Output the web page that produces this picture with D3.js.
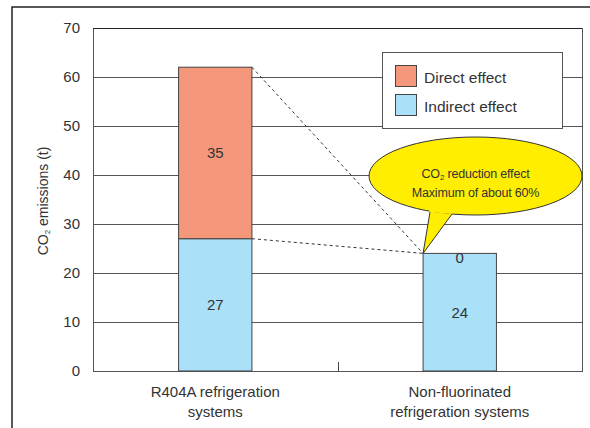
<!DOCTYPE html>
<html>
<head>
<meta charset="utf-8">
<script src="https://cdn.jsdelivr.net/npm/d3@7"></script>
<style>
  html, body { margin: 0; padding: 0; background: #fff; }
  svg { display: block; font-family: "Liberation Sans", Arial, sans-serif; }
</style>
</head>
<body>
<svg id="chart" width="590" height="428"></svg>
<script>
// Emissions data (tonnes of CO2)
const categories = [
  ["R404A refrigeration", "systems"],
  ["Non-fluorinated", "refrigeration systems"]
];
const indirectValues = [27, 24];
const directValues = [35, 0];
const seriesNames = ["Direct effect", "Indirect effect"];
const yTicks = [0, 10, 20, 30, 40, 50, 60, 70];
const calloutLines = ["CO|2| reduction effect", "Maximum of about 60%"];

const colors = { direct: "#F4977A", indirect: "#AAE0F8" };
const textColor = "#333";

const svg = d3.select("#chart");
const margin = { left: 93, top: 28, right: 8, bottom: 57 };
const W = 590, H = 428;
const plotW = W - margin.left - margin.right;
const plotH = H - margin.top - margin.bottom;

// Outer frame
svg.append("rect")
  .attr("x", 12).attr("y", 7)
  .attr("width", 600).attr("height", 440)
  .attr("fill", "none").attr("stroke", "#222").attr("stroke-width", 1.5);

const g = svg.append("g").attr("transform", `translate(${margin.left},${margin.top})`);

const x = d3.scaleBand()
  .domain(d3.range(categories.length))
  .range([0, plotW])
  .paddingInner(0.7)
  .paddingOuter(0.35);

const y = d3.scaleLinear().domain([0, 70]).range([plotH, 0]);

// Horizontal gridlines
g.append("g").selectAll("line")
  .data(yTicks.filter(t => t > 0 && t < 70))
  .join("line")
  .attr("x1", 0).attr("x2", plotW)
  .attr("y1", d => Math.round(y(d)) + 0.5).attr("y2", d => Math.round(y(d)) + 0.5)
  .attr("stroke", "#555").attr("stroke-width", 1);

// Plot border
g.append("rect")
  .attr("x", 0.5).attr("y", 0.5)
  .attr("width", plotW).attr("height", plotH)
  .attr("fill", "none").attr("stroke", "#555").attr("stroke-width", 1);
g.append("line")
  .attr("x1", 0).attr("x2", plotW).attr("y1", 0.5).attr("y2", 0.5)
  .attr("stroke", "#222");

// Y axis labels
const yAxis = d3.axisLeft(y).tickValues(yTicks).tickSize(0).tickPadding(13);
const yg = g.append("g").call(yAxis);
yg.select(".domain").remove();
yg.selectAll("text")
  .attr("font-size", 15)
  .attr("font-family", "Liberation Sans, Arial, sans-serif")
  .attr("fill", textColor);

// Category separator tick (inside, pointing up)
const sepX = x(1) - x.step() * x.paddingInner() / 2 - x.bandwidth() / 2 - (x.step() - x.bandwidth()) / 2 + x.step() / 2;
g.append("line")
  .attr("x1", Math.round(plotW / 2) + 0.5)
  .attr("x2", Math.round(plotW / 2) + 0.5)
  .attr("y1", plotH).attr("y2", plotH - 9)
  .attr("stroke", "#444");

// Stacked data
const stackData = categories.map((c, i) => ({ i, indirect: indirectValues[i], direct: directValues[i] }));
const stack = d3.stack().keys(["indirect", "direct"]);
const layers = stack(stackData);

// Connector lines between bar tops
const conn = g.append("g")
  .attr("stroke", "#333").attr("stroke-width", 1)
  .attr("stroke-dasharray", "3,3").attr("fill", "none");
const bx0 = x(0) + x.bandwidth();
const bx1 = x(1);
const top1 = indirectValues[1] + directValues[1];
conn.append("line")
  .attr("x1", bx0).attr("y1", y(indirectValues[0] + directValues[0]))
  .attr("x2", bx1).attr("y2", y(top1));
conn.append("line")
  .attr("x1", bx0).attr("y1", y(indirectValues[0]))
  .attr("x2", bx1).attr("y2", y(top1));

// Bars
g.append("g").selectAll("g")
  .data(layers)
  .join("g")
  .attr("fill", d => colors[d.key])
  .selectAll("rect")
  .data(d => d.filter(s => s[1] > s[0]))
  .join("rect")
  .attr("x", d => x(d.data.i))
  .attr("y", d => y(d[1]))
  .attr("width", x.bandwidth())
  .attr("height", d => y(d[0]) - y(d[1]))
  .attr("stroke", "#444").attr("stroke-width", 1);

// Bar value labels
const labels = [];
layers.forEach(layer => layer.forEach(s => {
  labels.push({ i: s.data.i, v: s[1] - s[0], mid: (s[0] + s[1]) / 2 });
}));
g.append("g").selectAll("text")
  .data(labels)
  .join("text")
  .attr("x", d => x(d.i) + x.bandwidth() / 2)
  .attr("y", d => y(d.mid) + (d.v === 0 ? 10 : 5.5))
  .attr("text-anchor", "middle")
  .attr("font-size", 15)
  .attr("fill", textColor)
  .text(d => d.v);

// X category labels
const xl = g.append("g");
categories.forEach((lines, i) => {
  lines.forEach((ln, j) => {
    xl.append("text")
      .attr("x", x(i) + x.bandwidth() / 2)
      .attr("y", plotH + 26 + j * 20)
      .attr("text-anchor", "middle")
      .attr("font-size", 15)
      .attr("fill", textColor)
      .text(ln);
  });
});

// Y axis title
const yt = svg.append("text")
  .attr("transform", "translate(48,201) rotate(-90)")
  .attr("text-anchor", "middle")
  .attr("font-size", 14)
  .attr("fill", textColor);
yt.append("tspan").text("CO");
yt.append("tspan").attr("font-size", 8).attr("dy", 2).text("2");
yt.append("tspan").attr("dy", -2).text(" emissions (t)");

// Legend
const lg = svg.append("g").attr("transform", "translate(382,52)");
lg.append("rect")
  .attr("x", 0.5).attr("y", 0.5).attr("width", 180).attr("height", 76)
  .attr("fill", "#fff").attr("stroke", "#555");
const legendItems = [
  { name: seriesNames[0], color: colors.direct },
  { name: seriesNames[1], color: colors.indirect }
];
legendItems.forEach((d, k) => {
  lg.append("rect")
    .attr("x", 13.5).attr("y", 13.5 + k * 29)
    .attr("width", 21).attr("height", 21)
    .attr("fill", d.color).attr("stroke", "#444");
  lg.append("text")
    .attr("x", 42).attr("y", 30.5 + k * 29)
    .attr("font-size", 15.5)
    .attr("fill", textColor)
    .text(d.name);
});

// Callout bubble
const tipX = margin.left + bx1, tipY = margin.top + y(top1);
const cx = 475.5, cy = 176, rx = 106.5, ry = 39;
const bubble = svg.append("g");
bubble.append("ellipse")
  .attr("cx", cx).attr("cy", cy).attr("rx", rx).attr("ry", ry)
  .attr("fill", "#FFEE00").attr("stroke", "#333").attr("stroke-width", 1);
bubble.append("path")
  .attr("d", `M430,212 L${tipX},${tipY} L452,214`)
  .attr("fill", "#FFEE00").attr("stroke", "#333").attr("stroke-width", 1);
bubble.append("path")
  .attr("d", `M429.5,210 L452.5,212`)
  .attr("stroke", "#FFEE00").attr("stroke-width", 4);
calloutLines.forEach((ln, j) => {
  const t = bubble.append("text")
    .attr("x", cx).attr("y", 178 + j * 19)
    .attr("text-anchor", "middle")
    .attr("font-size", 12.5)
    .attr("letter-spacing", -0.2)
    .attr("fill", textColor);
  ln.split("|").forEach((part, p) => {
    if (p === 1) t.append("tspan").attr("font-size", 8).attr("dy", 1.5).text(part);
    else if (p === 2) t.append("tspan").attr("dy", -1.5).text(part);
    else t.append("tspan").text(part);
  });
});
</script>
</body>
</html>
